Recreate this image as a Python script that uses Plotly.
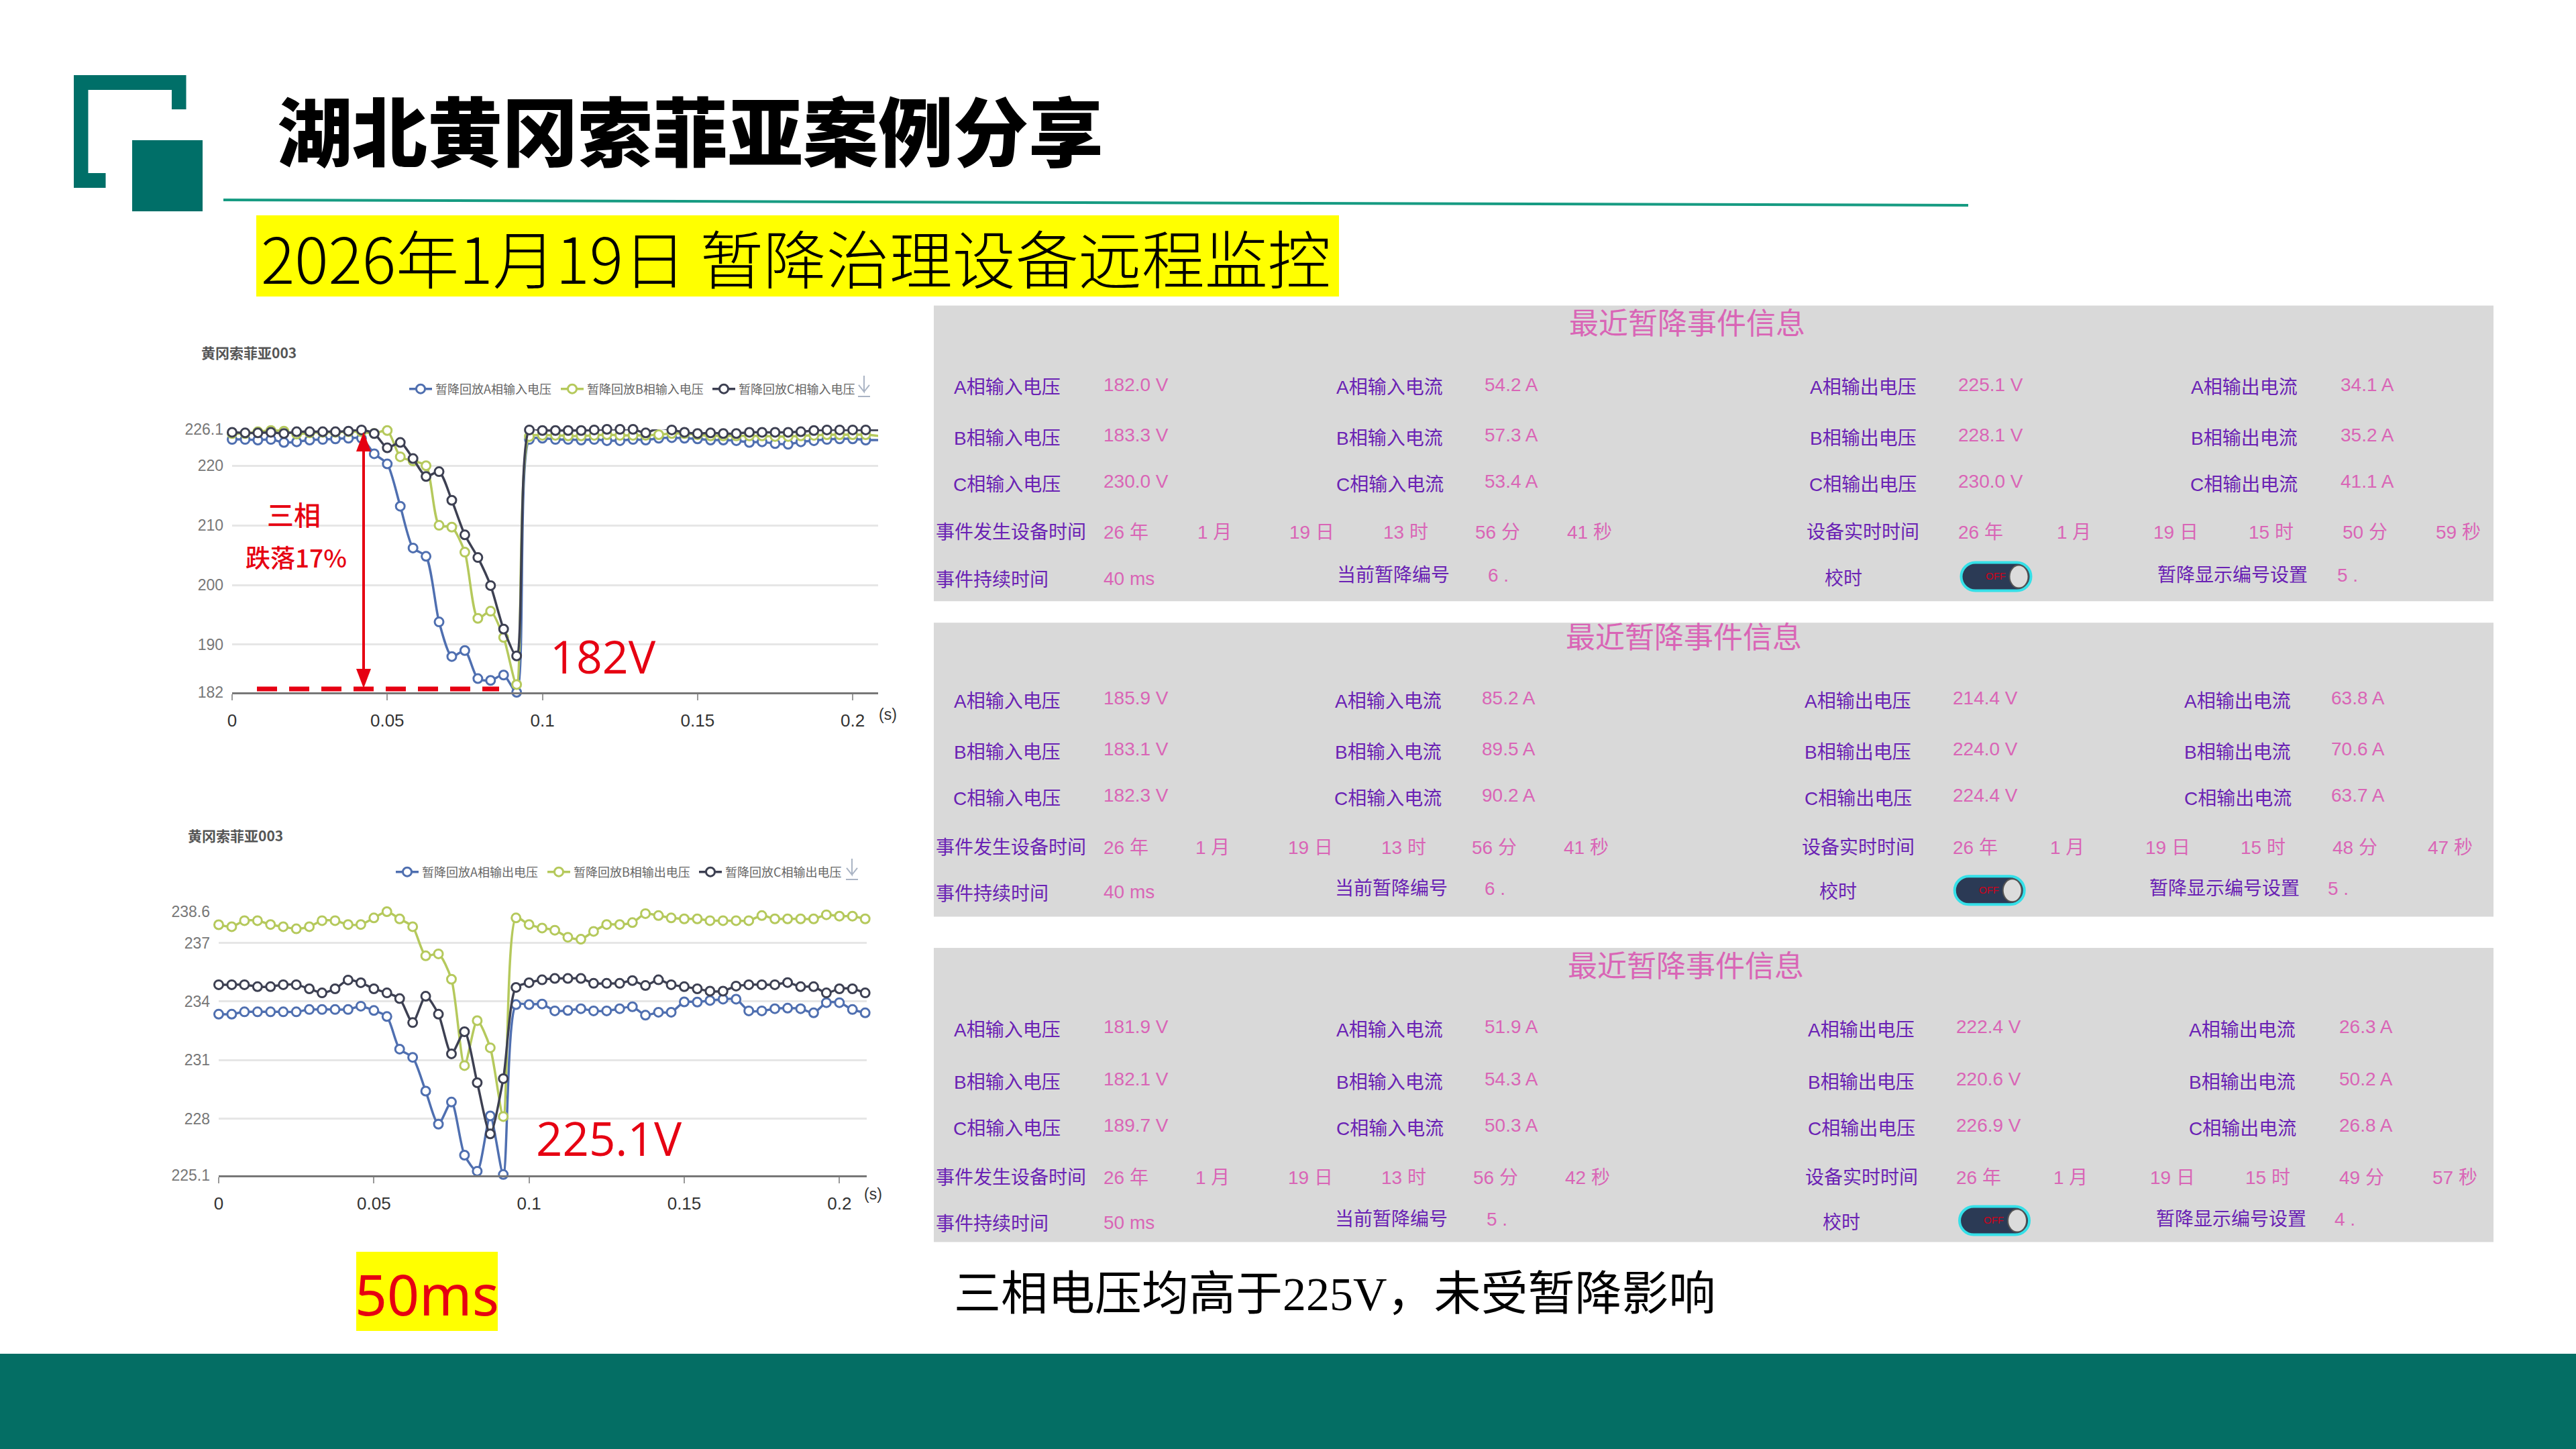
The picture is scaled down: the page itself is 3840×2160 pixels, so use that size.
import plotly.graph_objects as go

# sample times of the replay curves (s)
time_s = [0, 0.0042, 0.0083, 0.0125, 0.0167, 0.0208, 0.025, 0.0292, 0.0333, 0.0375, 0.0417, 0.0458, 0.05,
          0.0542, 0.0583, 0.0625, 0.0667, 0.0708, 0.075, 0.0792, 0.0833, 0.0875, 0.0917, 0.0958, 0.1,
          0.1042, 0.1083, 0.1125, 0.1167, 0.1208, 0.125, 0.1292, 0.1333, 0.1375, 0.1417, 0.1458, 0.15,
          0.1542, 0.1583, 0.1625, 0.1667, 0.1708, 0.175, 0.1792, 0.1833, 0.1875, 0.1917, 0.1958, 0.2,
          0.2042, 0.2083]

input_a = [224.4, 224.4, 224.3, 224.4, 223.9, 224.0, 224.3, 224.4, 224.5, 224.6, 224.6, 222.0, 220.3, 213.2,
           206.2, 204.8, 193.8, 188.0, 189.0, 184.3, 184.0, 184.9, 182.0,
           224.4, 224.6, 224.4, 224.4, 224.3, 224.4, 224.2, 224.2, 224.4, 224.3, 224.6, 224.7, 224.6, 224.5,
           224.3, 224.3, 224.2, 223.9, 224.0, 223.7, 223.6, 224.0, 224.2, 224.4, 224.5, 224.5, 224.3, 224.3]
input_b = [225.4, 225.4, 225.7, 225.9, 225.8, 225.3, 225.5, 225.6, 225.6, 225.7, 225.7, 225.4, 225.9, 221.5,
           220.8, 220.0, 210.0, 209.7, 205.5, 194.4, 195.6, 191.2, 183.3,
           224.9, 225.1, 225.1, 225.0, 225.0, 225.1, 225.2, 225.1, 225.1, 225.1, 225.2, 225.4, 225.4, 225.2,
           225.0, 225.0, 225.0, 225.0, 225.0, 224.9, 224.9, 225.0, 225.1, 225.2, 225.2, 225.2, 225.2, 225.0]
input_c = [225.6, 225.5, 225.5, 225.6, 225.4, 225.7, 225.7, 225.7, 225.7, 225.8, 226.0, 225.4, 223.0, 223.9,
           221.2, 218.2, 219.0, 214.2, 208.4, 204.6, 199.9, 192.6, 188.1,
           226.0, 225.9, 225.9, 225.9, 225.9, 226.0, 226.1, 226.1, 226.1, 225.5, 226.3, 226.0, 225.6, 225.4,
           225.5, 225.4, 225.4, 225.6, 225.6, 225.6, 225.6, 225.7, 225.9, 226.0, 226.0, 226.0, 226.0, 226.0]

output_a = [233.35, 233.35, 233.47, 233.47, 233.47, 233.47, 233.47, 233.59, 233.59, 233.59, 233.59, 233.76,
            233.54, 233.23, 231.56, 231.14, 229.41, 227.72, 228.85, 226.13, 225.31, 228.14, 225.14,
            233.84, 233.84, 233.87, 233.52, 233.54, 233.63, 233.52, 233.52, 233.63, 233.73, 233.3, 233.45,
            233.45, 233.98, 233.97, 234.05, 234.12, 234.12, 233.52, 233.52, 233.63, 233.66, 233.63, 233.42,
            233.94, 233.94, 233.59, 233.42]
output_b = [237.93, 237.83, 238.14, 238.14, 237.94, 237.83, 237.72, 237.83, 238.14, 238.14, 237.94, 237.94,
            238.28, 238.6, 238.23, 237.83, 236.34, 236.44, 235.14, 230.72, 233.02, 231.63, 228.11,
            238.28, 237.94, 237.76, 237.65, 237.29, 237.19, 237.59, 237.94, 237.94, 238.04, 238.5, 238.4,
            238.28, 238.23, 238.23, 238.14, 238.14, 238.14, 238.14, 238.4, 238.23, 238.23, 238.23, 238.23,
            238.44, 238.37, 238.37, 238.23]
output_c = [234.86, 234.86, 234.86, 234.76, 234.76, 234.86, 234.86, 234.65, 234.44, 234.65, 235.1, 234.96,
            234.65, 234.44, 234.15, 232.92, 234.27, 233.35, 231.32, 232.45, 229.84, 227.22, 230.05,
            234.72, 234.96, 235.11, 235.18, 235.18, 235.18, 234.93, 234.93, 234.93, 235.07, 234.82, 235.11,
            234.86, 234.76, 234.65, 234.53, 234.53, 234.79, 234.86, 234.86, 234.86, 234.97, 234.76, 234.76,
            234.44, 234.65, 234.65, 234.44]

input_names = ['暂降回放A相输入电压', '暂降回放B相输入电压', '暂降回放C相输入电压']
output_names = ['暂降回放A相输出电压', '暂降回放B相输出电压', '暂降回放C相输出电压']
x_ticks = [0, 0.05, 0.1, 0.15, 0.2]
x_tick_labels = ['0', '0.05', '0.1', '0.15', '0.2']
input_y_ticks = [182, 190, 200, 210, 220, 226.1]
output_y_ticks = [225.1, 228, 231, 234, 237, 238.6]

# panel values: voltage in, current in, voltage out, current out, event time, real time, duration, numbers
panel1_values = [['182.0 V', '183.3 V', '230.0 V'], ['54.2 A', '57.3 A', '53.4 A'],
                 ['225.1 V', '228.1 V', '230.0 V'], ['34.1 A', '35.2 A', '41.1 A'],
                 ['26 年', '1 月', '19 日', '13 时', '56 分', '41 秒'],
                 ['26 年', '1 月', '19 日', '15 时', '50 分', '59 秒'], '40 ms', '6 .', '5 .']
panel2_values = [['185.9 V', '183.1 V', '182.3 V'], ['85.2 A', '89.5 A', '90.2 A'],
                 ['214.4 V', '224.0 V', '224.4 V'], ['63.8 A', '70.6 A', '63.7 A'],
                 ['26 年', '1 月', '19 日', '13 时', '56 分', '41 秒'],
                 ['26 年', '1 月', '19 日', '15 时', '48 分', '47 秒'], '40 ms', '6 .', '5 .']
panel3_values = [['181.9 V', '182.1 V', '189.7 V'], ['51.9 A', '54.3 A', '50.3 A'],
                 ['222.4 V', '220.6 V', '226.9 V'], ['26.3 A', '50.2 A', '26.8 A'],
                 ['26 年', '1 月', '19 日', '13 时', '56 分', '42 秒'],
                 ['26 年', '1 月', '19 日', '15 时', '49 分', '57 秒'], '50 ms', '5 .', '4 .']

BLUE = '#4f6fb0'
GREEN = '#b5c95c'
DARK = '#3d4052'
TEAL = '#006f68'
FOOTER = '#046e64'
RED = '#e60012'
PURPLE = '#6a22b4'
PINK = '#d965b6'
CJK = 'Noto Sans CJK SC'
MIXED = 'Liberation Sans, Noto Sans CJK SC'
S = 3840 / 1568  # the panel positions were measured on the 1568 px overview


def px(x):
    return x / 3840


def py(y):
    return 1 - y / 2160


annotations = []
shapes = []


def text(x, y, s, size, color='#000000', anchor='center', family=MIXED, weight=None):
    font = dict(size=size, color=color, family=family)
    if weight:
        font['weight'] = weight
    annotations.append(dict(x=px(x), y=py(y), xref='paper', yref='paper', text=s, showarrow=False,
                            xanchor=anchor, yanchor='middle', font=font))


def rect(x0, y0, x1, y1, color):
    shapes.append(dict(type='rect', xref='paper', yref='paper', x0=px(x0), x1=px(x1), y0=py(y0), y1=py(y1),
                       fillcolor=color, line_width=0, layer='below'))


def path(points, color=None, line=None, width=0):
    d = 'M ' + ' L '.join(f'{px(a):.5f},{py(b):.5f}' for a, b in points)
    if color:
        d += ' Z'
    shapes.append(dict(type='path', xref='paper', yref='paper', path=d, fillcolor=color,
                       line=dict(color=line or color, width=width)))


def toggle(cx, cy):
    w, h = 52, 21
    k = 0.55 * h
    d = (f'M {px(cx - w + h):.5f},{py(cy - h):.5f} L {px(cx + w - h):.5f},{py(cy - h):.5f} '
         f'C {px(cx + w - h + k):.5f},{py(cy - h):.5f} {px(cx + w):.5f},{py(cy - k):.5f} {px(cx + w):.5f},{py(cy):.5f} '
         f'C {px(cx + w):.5f},{py(cy + k):.5f} {px(cx + w - h + k):.5f},{py(cy + h):.5f} {px(cx + w - h):.5f},{py(cy + h):.5f} '
         f'L {px(cx - w + h):.5f},{py(cy + h):.5f} '
         f'C {px(cx - w + h - k):.5f},{py(cy + h):.5f} {px(cx - w):.5f},{py(cy + k):.5f} {px(cx - w):.5f},{py(cy):.5f} '
         f'C {px(cx - w):.5f},{py(cy - k):.5f} {px(cx - w + h - k):.5f},{py(cy - h):.5f} {px(cx - w + h):.5f},{py(cy - h):.5f} Z')
    shapes.append(dict(type='path', xref='paper', yref='paper', path=d, fillcolor='#2b3a55',
                       line=dict(color='#35e0e8', width=4)))
    shapes.append(dict(type='circle', xref='paper', yref='paper', x0=px(cx + 20), x1=px(cx + 48),
                       y0=py(cy - 17), y1=py(cy + 17), fillcolor='#dcdcdc', line=dict(color='#555555', width=2)))
    text(cx - 1, cy - 1, 'OFF', 15, '#d0021b')


def panel(top, bottom, values, title_xy, rows, row4, row5, col_label, col_value, event_x, real_x, extra):
    rect(1392, top * S, 3717, bottom * S, '#d9d9d9')
    text(title_xy[0] * S, title_xy[1] * S, '最近暂降事件信息', 44, PINK)
    kinds = ['输入电压', '输入电流', '输出电压', '输出电流']
    for c in range(4):
        for r, ph in enumerate('ABC'):
            text(col_label[c] * S, rows[r] * S, f'{ph}相{kinds[c]}', 28, PURPLE)
            text(col_value[c] * S, (rows[r] - 2) * S, values[c][r], 28, PINK, 'left')
    text(569 * S, row4 * S, '事件发生设备时间', 28, PURPLE, 'left')
    text(col_label[2] * S, row4 * S, '设备实时时间', 28, PURPLE)
    for v, x in zip(values[4], event_x):
        text(x * S, row4 * S, v, 28, PINK, 'left')
    for v, x in zip(values[5], real_x):
        text(x * S, row4 * S, v, 28, PINK, 'left')
    text(569 * S, row5 * S, '事件持续时间', 28, PURPLE, 'left')
    text(671 * S, (row5 - 1) * S, values[6], 28, PINK, 'left')
    text(extra[0] * S, (row5 - 3) * S, '当前暂降编号', 28, PURPLE)
    text(extra[1] * S, (row5 - 3) * S, values[7], 28, PINK, 'left')
    text(extra[2] * S, (row5 - 1) * S, '校时', 28, PURPLE)
    toggle(extra[3] * S, (row5 - 2) * S)
    text(extra[4] * S, (row5 - 3) * S, '暂降显示编号设置', 28, PURPLE)
    text(extra[5] * S, (row5 - 3) * S, values[8], 28, PINK, 'left')


# slide furniture
rect(0, 2018, 3840, 2160, FOOTER)
path([(110, 112), (277.5, 112), (277.5, 163), (256, 163), (256, 134), (131.5, 134), (131.5, 258),
      (157.5, 258), (157.5, 280), (110, 280)], color=TEAL)
rect(197, 209, 302, 315, TEAL)
shapes.append(dict(type='line', xref='paper', yref='paper', x0=px(333), x1=px(2934), y0=py(298), y1=py(306),
                   line=dict(color='#169b82', width=4)))
text(411, 191, '湖北黄冈索菲亚案例分享', 112, anchor='left', family=CJK, weight=900)
rect(382, 321, 1996, 442, '#ffff00')
text(387, 382, '2026年1月19日 暂降治理设备远程监控', 94, anchor='left', family=CJK, weight=300)
rect(531, 1866, 742, 1984, '#ffff00')
text(636, 1928, '50ms', 84, RED, family='Noto Sans')
text(1420, 1929, '三相电压均高于225V，未受暂降影响', 70, anchor='left', family='Liberation Serif, Noto Sans CJK SC')

# event panels
panel(186, 366, panel1_values, (1027, 197), [236, 267, 295], 324, 353, [613, 846, 1134, 1366], [671, 903, 1191, 1424],
      [671, 728, 784, 841, 897, 953], [1191, 1251, 1310, 1368, 1425, 1482], [848, 905, 1122, 1215, 1359, 1422])
panel(379, 558, panel2_values, (1025, 388), [427, 458, 486], 516, 544, [613, 845, 1131, 1362], [671, 901, 1188, 1418],
      [671, 727, 783, 840, 895, 951], [1188, 1247, 1305, 1363, 1419, 1477], [847, 903, 1119, 1211, 1354, 1416])
panel(577, 756, panel3_values, (1026, 588), [627, 659, 687], 717, 745, [613, 846, 1133, 1365], [671, 903, 1190, 1423],
      [671, 727, 783, 840, 896, 952], [1190, 1249, 1308, 1366, 1423, 1480], [847, 904, 1121, 1214, 1358, 1420])

# chart headings and small marks
text(298, 525, '黄冈索菲亚003', 21, '#555555', 'left', CJK, 700)
text(278, 1245, '黄冈索菲亚003', 21, '#555555', 'left', CJK, 700)
text(1323, 1065, '(s)', 23, '#333333')
text(1301, 1780, '(s)', 23, '#333333')
for ix, iy in [(1288, 560), (1270, 1280)]:
    path([(ix, iy), (ix, iy + 24), (ix - 8, iy + 14), (ix, iy + 24), (ix + 8, iy + 14)], line='#aab4c4', width=2)
    path([(ix - 9, iy + 31), (ix + 9, iy + 31)], line='#aab4c4', width=2)

# red callouts
text(438, 766, '三相', 40, RED, family=CJK, weight=500)
text(441, 830, '跌落17%', 37, RED, family=CJK, weight=500)
text(818, 977, '182V', 68, RED, 'left', 'Open Sans')
text(797, 1696, '225.1V', 69, RED, 'left', 'Open Sans')
shapes.append(dict(type='line', xref='paper', yref='paper', x0=px(542), x1=px(542), y0=py(660), y1=py(1010),
                   line=dict(color=RED, width=4)))
path([(542, 644), (531, 673), (553, 673)], color=RED)
path([(542, 1026), (531, 997), (553, 997)], color=RED)
shapes.append(dict(type='line', xref='paper', yref='paper', x0=px(383), x1=px(744), y0=py(1027), y1=py(1027),
                   line=dict(color=RED, width=7, dash='30px,18px')))


def curve(y, name, color, xa, ya, legend):
    return go.Scatter(x=time_s, y=y, name=name, xaxis=xa, yaxis=ya, legend=legend, mode='lines+markers',
                      cliponaxis=False, line=dict(color=color, width=3.5, shape='spline', smoothing=0.7),
                      marker=dict(size=13, color='#ffffff', line=dict(color=color, width=3)))


fig = go.Figure(data=[curve(input_a, input_names[0], BLUE, 'x', 'y', 'legend'),
                      curve(input_b, input_names[1], GREEN, 'x', 'y', 'legend'),
                      curve(input_c, input_names[2], DARK, 'x', 'y', 'legend'),
                      curve(output_a, output_names[0], BLUE, 'x2', 'y2', 'legend2'),
                      curve(output_b, output_names[1], GREEN, 'x2', 'y2', 'legend2'),
                      curve(output_c, output_names[2], DARK, 'x2', 'y2', 'legend2')])

# automargin off: it would push the plot area in and shift everything placed in paper coordinates
x_axis = dict(tickvals=x_ticks, ticktext=x_tick_labels, showgrid=False, zeroline=False, showline=True,
              automargin=False, linecolor='#777777', linewidth=3, ticks='outside', ticklen=9, tickcolor='#999999',
              tickwidth=2, ticklabelstandoff=8, tickfont=dict(size=26, color='#333333', family='Liberation Sans'))
y_axis = dict(showgrid=True, gridcolor='#e6e6e6', gridwidth=3, zeroline=False, showline=False, ticks='',
              automargin=False, ticklabelstandoff=12, tickfont=dict(size=23, color='#777777', family='Liberation Sans'))

legend_style = dict(orientation='h', xanchor='left', yanchor='middle', bgcolor='rgba(0,0,0,0)', itemwidth=34,
                    entrywidth=177, entrywidthmode='pixels', itemclick=False, traceorder='normal',
                    font=dict(size=18, color='#666666', family=CJK))

fig.update_layout(
    width=3840, height=2160, margin=dict(l=0, r=0, t=0, b=0, autoexpand=False), paper_bgcolor='#ffffff',
    plot_bgcolor='rgba(0,0,0,0)', showlegend=True,
    xaxis=dict(x_axis, domain=[px(346), px(1309)], range=[0, 0.2082], anchor='y'),
    yaxis=dict(y_axis, domain=[py(1032), py(640)], range=[182, 226.1], tickvals=input_y_ticks,
               ticktext=['182', '190', '200', '210', '220', '226.1'], anchor='x'),
    xaxis2=dict(x_axis, domain=[px(326), px(1292)], range=[0, 0.2088], anchor='y2'),
    yaxis2=dict(y_axis, domain=[py(1752), py(1359)], range=[225.1, 238.6], tickvals=output_y_ticks,
                ticktext=['225.1', '228', '231', '234', '237', '238.6'], anchor='x2'),
    legend=dict(legend_style, x=px(605), y=py(580)),
    legend2=dict(legend_style, x=px(585), y=py(1300)),
    shapes=shapes, annotations=annotations)

fig.write_html("out.html", config={'displayModeBar': False},
               post_script="document.body.style.margin='0';document.body.style.overflow='hidden';")
